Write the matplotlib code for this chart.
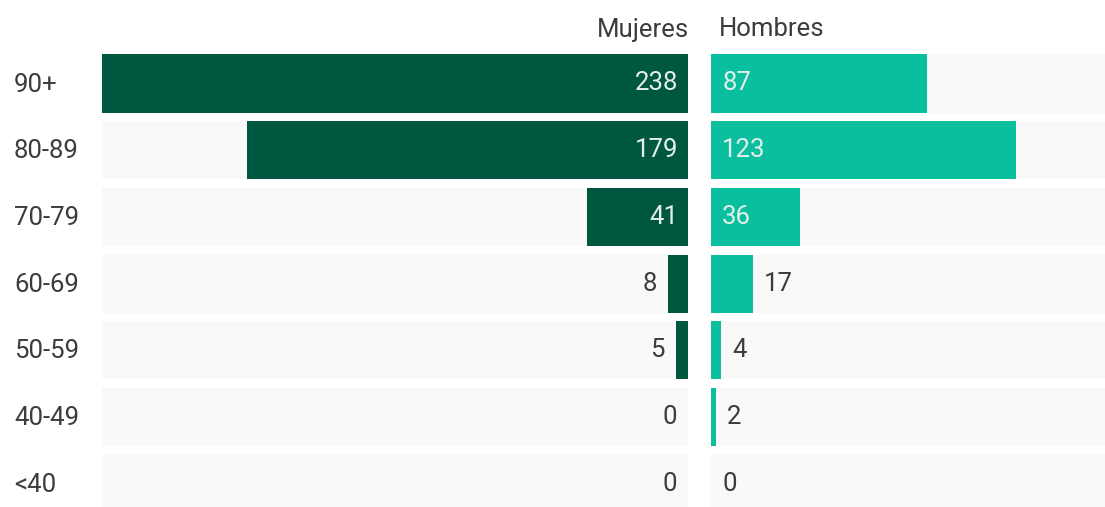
import matplotlib.pyplot as plt

# data
grupos = ["90+", "80-89", "70-79", "60-69", "50-59", "40-49", "<40"]
mujeres = [238, 179, 41, 8, 5, 0, 0]
hombres = [87, 123, 36, 17, 4, 2, 0]

c_muj = "#00573f"
c_hom = "#0abf9e"
c_fondo = "#f9f9f9"
c_txt = "#3c3c3c"
c_txt_in = "#e3efeb"

plt.rcParams['font.family'] = ['Roboto', 'DejaVu Sans']

fig = plt.figure(figsize=(11.05, 5.07), dpi=100)
W, H = 1105, 507

# rows: centre of first row at pixel 83.5, pitch 66.67 px
y_top = -83.5 / 66.67
y_bot = (H - 83.5) / 66.67

ax_l = fig.add_axes([102 / W, 0, (688 - 102) / W, 1])
ax_r = fig.add_axes([711 / W, 0, (W - 711) / W, 1])

max_l = 238
max_r = 159  # right panel is a bit shorter than the left one

pos = list(range(len(grupos)))
h = 0.87

ax_l.barh(pos, [max_l] * len(pos), height=h, color=c_fondo)
ax_l.barh(pos, mujeres, height=h, color=c_muj)
ax_l.set_xlim(max_l, 0)

ax_r.barh(pos, [max_r] * len(pos), height=h, color=c_fondo)
ax_r.barh(pos, hombres, height=h, color=c_hom)
ax_r.set_xlim(0, max_r)

for ax in (ax_l, ax_r):
    ax.set_ylim(y_bot, y_top)
    ax.axis("off")

fs = 18.5
for i, v in enumerate(mujeres):
    if v >= 30:
        ax_l.text(4, i, str(v), ha="right", va="center",
                  color=c_txt_in, fontsize=fs)
    elif v > 0:
        ax_l.text(v + 4.5, i, str(v), ha="right", va="center",
                  color=c_txt, fontsize=fs)
    else:
        ax_l.text(4.5, i, str(v), ha="right", va="center",
                  color=c_txt, fontsize=fs)

for i, v in enumerate(hombres):
    if v >= 30:
        ax_r.text(4.5, i, str(v), ha="left", va="center",
                  color=c_txt_in, fontsize=fs)
    else:
        ax_r.text(v + 4.5, i, str(v), ha="left", va="center",
                  color=c_txt, fontsize=fs)

for i, g in enumerate(grupos):
    fig.text(14 / W, 1 - (84.5 + 66.67 * i) / H, g, ha="left", va="center",
             color=c_txt, fontsize=fs)

fig.text(689 / W, 1 - 29.5 / H, "Mujeres", ha="right", va="center",
         color=c_txt, fontsize=fs)
fig.text(719 / W, 1 - 29.5 / H, "Hombres", ha="left", va="center",
         color=c_txt, fontsize=fs)

fig.savefig("out.png", dpi=100)
